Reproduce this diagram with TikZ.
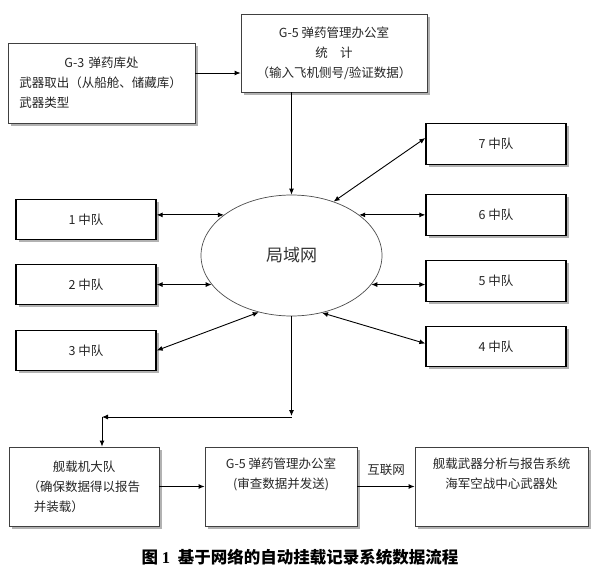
\documentclass[tikz,border=0pt]{standalone}
\usepackage{fontspec}
\usepackage{tikz}
\usetikzlibrary{shapes.geometric}
\usetikzlibrary{shadows}
\usetikzlibrary{arrows.meta}
\newfontfamily\cjk{Noto Sans CJK SC}
\setmainfont{Liberation Serif}
\newcommand{\boxfont}{\cjk\fontsize{12.5}{20}\selectfont}
\tikzstyle{mybox} = [draw=black!75, line width=0.8pt, fill=white,
rectangle, inner sep=2pt, align=center, text=black!85, font=\boxfont,
drop shadow={shadow xshift=2.5pt, shadow yshift=-2.5pt, fill=black!60}]
\tikzstyle{teambox} = [mybox, draw=black, line width=1.3pt,
minimum width=140pt, minimum height=40.5pt]
\tikzstyle{netcloud} = [draw=black!70, line width=0.7pt, fill=white, ellipse,
minimum width=181pt, minimum height=121pt, text=black!80,
font=\cjk\fontsize{17}{20}\selectfont]
\tikzstyle{arr} = [-{Latex[length=6pt,width=5pt]}, line width=0.9pt]
\tikzstyle{dblarr} = [{Latex[length=6pt,width=5pt]}-{Latex[length=6pt,width=5pt]}, line width=0.9pt]

\begin{document}
\begin{tikzpicture}[x=1pt, y=-1pt]
    \path[use as bounding box, fill=white] (0,0) rectangle (600,581);
    \node [mybox, minimum width=187pt, minimum height=80pt, text width=164pt, align=left] (g3) at (101.5,83) {%
        \makebox[\linewidth]{G-3 弹药库处}\\武器取出（从船舱、储藏库）\\武器类型};
    \node [mybox, minimum width=186pt, minimum height=78pt] (g5top) at (334,53) {%
        G-5 弹药管理办公室\\统\hspace{1em}计\\（输入飞机侧号/验证数据）};
    \node [netcloud] (lan) at (291.5,255.5) {局域网};
    \node [teambox] (t1) at (86,219.5) {1 中队};
    \node [teambox] (t2) at (86,284.5) {2 中队};
    \node [teambox] (t3) at (86,350.5) {3 中队};
    \node [teambox] (t7) at (496,144) {7 中队};
    \node [teambox] (t6) at (496,215) {6 中队};
    \node [teambox] (t5) at (496,281) {5 中队};
    \node [teambox] (t4) at (496,346.5) {4 中队};
    \node [mybox, minimum width=150pt, minimum height=79pt, text width=113pt, align=left] (fleet) at (84,486.5) {%
        \makebox[\linewidth]{舰载机大队}\\（确保数据得以报告\\\hspace*{0.5em}并装载）};
    \node [mybox, minimum width=152pt, minimum height=79pt] (g5bot) at (281,486.5) {%
        G-5 弹药管理办公室\\(审查数据并发送)\\\strut};
    \node [mybox, minimum width=173pt, minimum height=79pt] (nwac) at (501.5,486.5) {%
        舰载武器分析与报告系统\\海军空战中心武器处\\\strut};
    \coordinate (split) at (291.5,416);
    \coordinate (turn) at (102,417);
    \node [font=\cjk\bfseries\fontsize{16.5}{20}\selectfont] (caption) at (300,557) {%
        图~{\rmfamily\bfseries 1}~~基于网络的自动挂载记录系统数据流程};
    \draw [arr] ([yshift=10pt]g3.east) -- ([yshift=10pt]g3.east -| g5top.west);
    \draw [arr] (lan.north |- g5top.south) -- (lan.north);
    \draw [dblarr] (t1.east |- lan.149) -- (lan.149);
    \draw [dblarr] (t2.east |- lan.200) -- (lan.200);
    \draw [dblarr] (t3.east) -- (lan.240);
    \draw [dblarr] (lan.52) -- ([yshift=6pt]t7.west);
    \draw [dblarr] (lan.31) -- (lan.31 -| t6.west);
    \draw [dblarr] (lan.340) -- (lan.340 -| t5.west);
    \draw [dblarr] (lan.298) -- ([yshift=3pt]t4.west);
    \draw [arr] (lan.south) -- (split);
    \draw [arr] (split |- turn) -- (turn);
    \draw [arr] (turn) -- (turn |- fleet.north);
    \draw [arr] (fleet.east) -- (g5bot.west);
    \draw [arr] (g5bot.east) -- (nwac.west) node [midway, above=7pt, font=\boxfont, text=black!85] (inet) {互联网};
\end{tikzpicture}
\end{document}
